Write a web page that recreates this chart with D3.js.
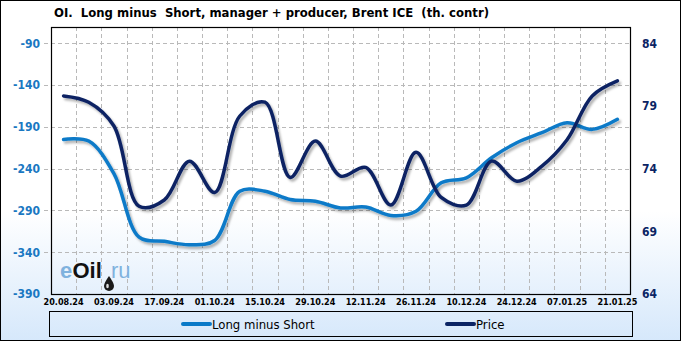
<!DOCTYPE html>
<html><head><meta charset="utf-8">
<script src="https://cdn.jsdelivr.net/npm/d3@7"></script>
<style>html,body{margin:0;padding:0;background:#fff}svg{display:block}</style>
</head><body>
<script>
const dates = ["20.08.24","27.08.24","03.09.24","10.09.24","17.09.24","24.09.24","01.10.24","08.10.24","15.10.24","22.10.24","29.10.24","05.11.24","12.11.24","19.11.24","26.11.24","03.12.24","10.12.24","17.12.24","24.12.24","31.12.24","07.01.25","14.01.25","21.01.25"];
const longMinusShort = [-205,-207,-246,-322,-327,-331,-326,-267,-267,-277,-279,-287,-286,-296,-291,-257,-251,-227,-209,-197,-185,-193,-181];
const price = [79.8,79.3,77.4,71.0,71.5,74.6,72.1,78.2,79.3,73.3,76.2,73.4,74.1,71.1,75.3,71.7,71.1,74.6,73.0,74.2,76.3,79.8,81.0];
const leftTicks = [-390,-340,-290,-240,-190,-140,-90];
const rightTicks = [64,69,74,79,84];
const title = "OI.  Long minus  Short, manager + producer, Brent ICE  (th. contr)";
const seriesNames = ["Long minus Short","Price"];
const colors = ["#0a7ac8","#0b2464"];

const W=681,H=341;
const pl=51,pr=630,pt=27,pb=294;
const svg=d3.select("body").append("svg").attr("width",W).attr("height",H);
const defs=svg.append("defs");
const g=defs.append("linearGradient").attr("id","bg").attr("x1",0).attr("y1",0).attr("x2",0).attr("y2",1);
g.append("stop").attr("offset","0").attr("stop-color","#ffffff");
g.append("stop").attr("offset","0.62").attr("stop-color","#ffffff");
g.append("stop").attr("offset","1").attr("stop-color","#d6e8fb");
const f=defs.append("filter").attr("id","sh").attr("x","-10%").attr("y","-10%").attr("width","120%").attr("height","130%");
f.append("feDropShadow").attr("dx",2).attr("dy",2.5).attr("stdDeviation",1.3).attr("flood-color","#000").attr("flood-opacity",0.3);

svg.append("rect").attr("x",0.5).attr("y",0.5).attr("width",W-1).attr("height",H-1).attr("fill","url(#bg)").attr("stroke","#000");

const x=d3.scaleBand().domain(dates).range([pl,pr]);
const yL=d3.scaleLinear().domain([-390,-90]).range([pb,43.3]);
const yR=d3.scaleLinear().domain([64,84]).range([pb,43.3]);

// grid
const grid=svg.append("g").attr("stroke","#b9b9b9").attr("stroke-dasharray","4,3").attr("stroke-width",1);
dates.slice(1).forEach(d=>{const xx=Math.round(x(d))+0.5;grid.append("line").attr("x1",xx).attr("x2",xx).attr("y1",pt).attr("y2",pb);});
leftTicks.slice(1).forEach(v=>{const yy=Math.round(yL(v))+0.5;grid.append("line").attr("x1",44).attr("x2",pr).attr("y1",yy).attr("y2",yy);});

// logo
const lf="Liberation Sans, Arial, sans-serif";
svg.append("text").attr("x",60).attr("y",278).attr("font-family",lf).attr("font-size",22).attr("font-weight","bold").attr("fill","#7fb2de").text("e");
svg.append("text").attr("x",72.5).attr("y",278).attr("font-family",lf).attr("font-size",22).attr("font-weight","bold").attr("fill","#111").text("Oil");
svg.append("text").attr("x",111).attr("y",278).attr("font-family",lf).attr("font-size",22).attr("fill","#7fb2de").text("ru");
svg.append("path").attr("d","M109,276 q-5,7 -5,10 a5,5 0 0 0 10,0 q0,-3 -5,-10z").attr("fill","#1a1a1a");
svg.append("ellipse").attr("cx",107.5).attr("cy",286).attr("rx",1.3).attr("ry",2.2).attr("fill","#ddd");

// lines
const lineL=d3.line().x(d=>x(d[0])+x.bandwidth()/2).y(d=>yL(d[1])).curve(d3.curveCatmullRom.alpha(0.5));
const lineR=d3.line().x(d=>x(d[0])+x.bandwidth()/2).y(d=>yR(d[1])).curve(d3.curveCatmullRom.alpha(0.5));
svg.append("path").datum(dates.map((d,i)=>[d,longMinusShort[i]])).attr("d",lineL).attr("fill","none").attr("stroke",colors[0]).attr("stroke-width",3.5).attr("stroke-linecap","round").attr("filter","url(#sh)");
svg.append("path").datum(dates.map((d,i)=>[d,price[i]])).attr("d",lineR).attr("fill","none").attr("stroke",colors[1]).attr("stroke-width",3.5).attr("stroke-linecap","round").attr("filter","url(#sh)");

// frame
svg.append("rect").attr("x",pl+0.5).attr("y",pt+0.5).attr("width",pr-pl).attr("height",pb-pt).attr("fill","none").attr("stroke","#000").attr("stroke-width",1.2);

// axes
const fam="DejaVu Sans Condensed, DejaVu Sans, sans-serif";
const axL=svg.append("g").attr("transform",`translate(${pl},0)`).call(d3.axisLeft(yL).tickValues(leftTicks).tickFormat(d=>String(d)).tickSize(0).tickPadding(11));
axL.select(".domain").remove();
axL.selectAll("text").attr("font-family",fam).attr("font-size",12).attr("fill","#1a78c2").attr("font-weight","bold");
const axR=svg.append("g").attr("transform",`translate(${pr},0)`).call(d3.axisRight(yR).tickValues(rightTicks).tickSize(0).tickPadding(12));
axR.select(".domain").remove();
axR.selectAll("text").attr("font-family",fam).attr("font-size",12).attr("fill","#0b2464").attr("font-weight","bold");
const axB=svg.append("g").attr("transform",`translate(0,${pb})`).call(d3.axisBottom(x).tickValues(dates.filter((d,i)=>i%2===0)).tickSize(0).tickPadding(5));
axB.select(".domain").remove();
axB.selectAll("text").attr("font-family",fam).attr("font-size",9).attr("font-weight","bold").attr("fill","#000");

// title
svg.append("text").attr("x",54).attr("y",17).attr("font-family","DejaVu Sans, sans-serif").attr("font-weight","bold").attr("font-size",11.5).attr("fill","#000").attr("textLength",435).attr("lengthAdjust","spacingAndGlyphs").attr("xml:space","preserve").text(title);

// legend
svg.append("rect").attr("x",49.5).attr("y",311.5).attr("width",583).attr("height",25).attr("fill","none").attr("stroke","#000");
const leg=[[183,212],[447,476]];
seriesNames.forEach((n,i)=>{
  svg.append("line").attr("x1",leg[i][0]).attr("x2",leg[i][1]-2).attr("y1",324).attr("y2",324).attr("stroke",colors[i]).attr("stroke-width",4).attr("stroke-linecap","round");
  svg.append("text").attr("x",leg[i][1]).attr("y",328.5).attr("font-family",fam).attr("font-size",13).attr("fill","#000").text(n);
});
</script>
</body></html>
